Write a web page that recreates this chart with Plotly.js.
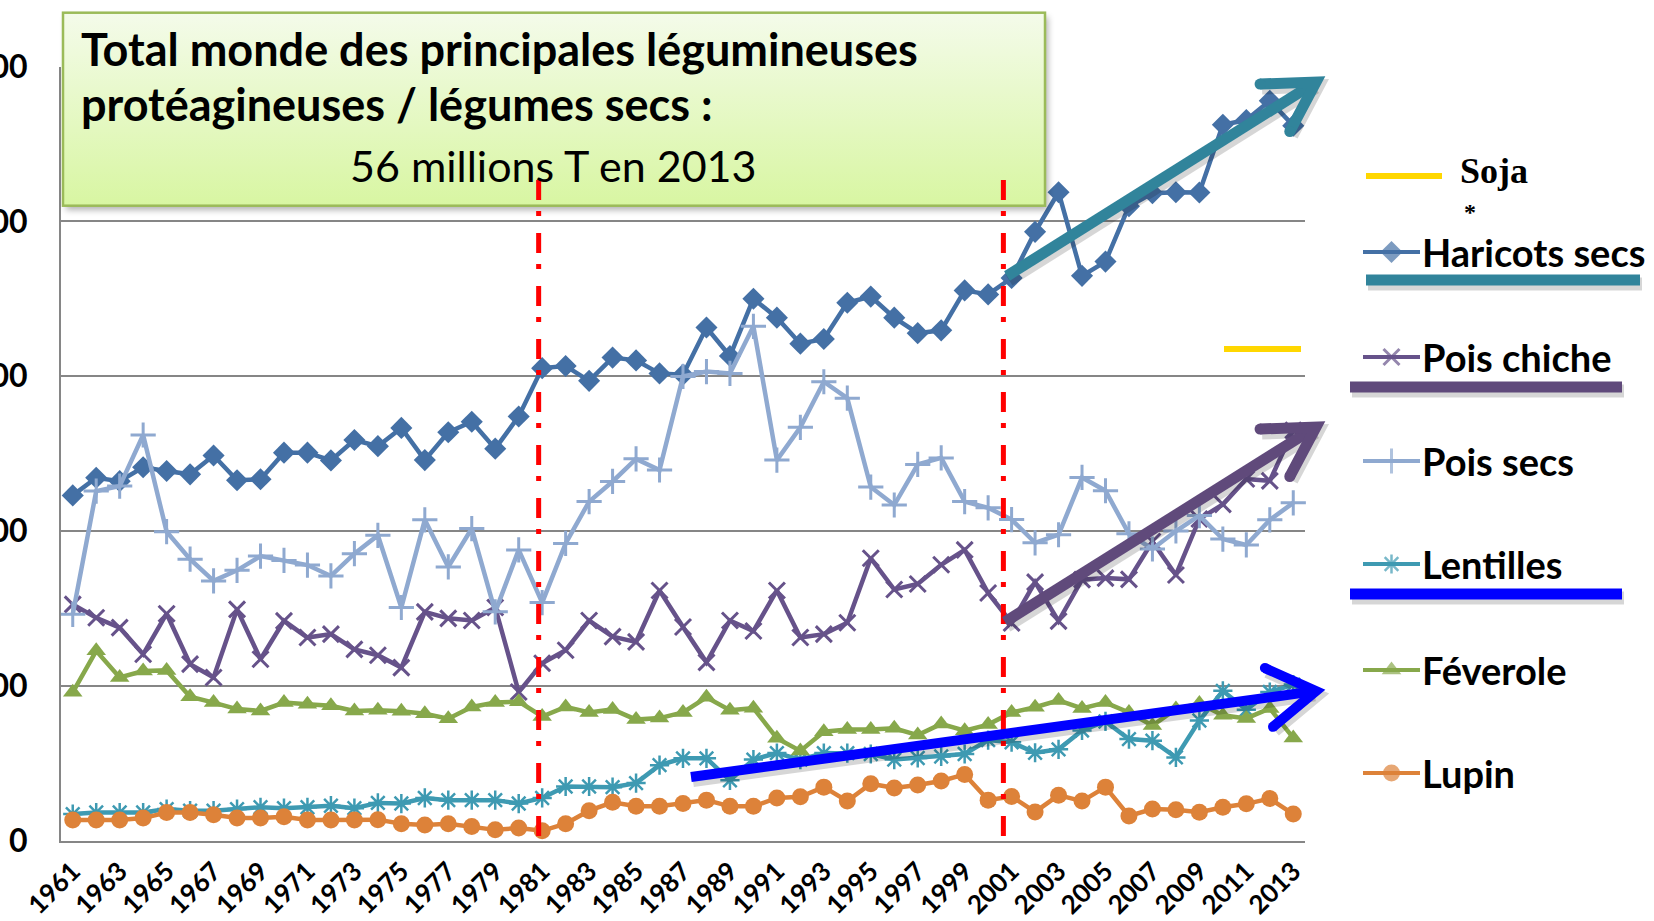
<!DOCTYPE html>
<html>
<head>
<meta charset="utf-8">
<script src="https://cdn.plot.ly/plotly-3.0.1.min.js"></script>
<style>html,body{margin:0;padding:0;background:#fff;}#chart{width:1654px;height:921px;}</style>
</head>
<body>
<div id="chart"></div>
<script>
// ---------- DATA (thousand tonnes, world production) ----------
const years = [1961,1962,1963,1964,1965,1966,1967,1968,1969,1970,1971,1972,1973,1974,1975,1976,1977,1978,1979,1980,
  1981,1982,1983,1984,1985,1986,1987,1988,1989,1990,1991,1992,1993,1994,1995,1996,1997,1998,1999,2000,
  2001,2002,2003,2004,2005,2006,2007,2008,2009,2010,2011,2012,2013];

const haricotsSecs = [11150,11720,11610,12060,11940,11830,12440,11640,11670,12530,12530,12280,12940,12740,13330,12290,13190,13530,12660,13700,
  15260,15330,14850,15600,15510,15090,15050,16570,15650,17500,16890,16050,16200,17370,17570,16890,16390,16480,17770,17640,
  18170,19660,20940,18240,18700,20490,20910,20940,20930,23120,23270,23890,23090];

const poisChiche = [7630,7200,6880,6020,7330,5700,5270,7470,5860,7100,6560,6670,6180,5990,5590,7390,7180,7110,7530,4800,
  5730,6150,7110,6590,6420,8080,6900,5760,7110,6770,8080,6560,6670,7040,9120,8110,8290,8910,9390,8000,
  7030,8350,7090,8430,8480,8440,9660,8580,10390,10860,11680,11620,13250];

const poisSecs = [7310,11290,11450,13100,9980,9090,8390,8730,9190,9050,8900,8550,9270,9860,7530,10360,8840,10080,7390,9390,
  7690,9600,10950,11600,12330,11970,14990,15150,15090,16610,12290,13350,14820,14290,11420,10840,12150,12360,10950,10750,
  10370,9620,9880,11730,11300,9910,9420,10000,10500,9740,9550,10360,10910];

const lentilles = [860,910,910,910,1020,970,970,1020,1080,1050,1080,1130,1050,1220,1200,1380,1310,1310,1310,1200,
  1380,1750,1750,1730,1860,2440,2660,2660,1950,2620,2830,2620,2830,2830,2800,2620,2670,2720,2800,3250,
  3180,2840,2950,3560,3850,3280,3230,2690,3880,4840,4230,4800,5040];

const feverole = [4790,6130,5270,5480,5500,4650,4460,4250,4190,4460,4410,4360,4190,4210,4180,4100,3940,4320,4460,4490,
  4010,4320,4140,4240,3910,3960,4140,4630,4210,4280,3310,2900,3520,3590,3590,3630,3410,3770,3550,3750,
  4140,4310,4530,4270,4460,4140,3720,4250,4430,4050,3950,4270,3320];

const lupin = [670,670,670,730,910,910,840,730,730,770,670,670,670,680,550,510,550,460,350,410,
  320,550,970,1240,1110,1110,1200,1310,1110,1110,1380,1420,1730,1280,1840,1700,1800,1930,2140,1310,
  1430,930,1470,1280,1730,800,1020,1000,920,1080,1190,1360,860];

const seriesNames = ["Haricots secs","Pois chiche","Pois secs","Lentilles","Féverole","Lupin"];
const seriesValues = [haricotsSecs, poisChiche, poisSecs, lentilles, feverole, lupin];
const yTicks = [0,5000,10000,15000,20000,25000];

const titleLine1 = "Total monde des principales légumineuses";
const titleLine2 = "protéagineuses / légumes secs :";
const titleLine3 = "56 millions T en 2013";
const sojaLabel = "Soja";
const markYears = [1981, 2001];

// ---------- STYLE ----------
const W = 1654, H = 921;
const PL = 61, PR = 1305, PT = 66.5, PB = 840.7;
const FONT = "Lato, 'Open Sans', sans-serif";
const styles = [
  {color:'#4470A5', symbol:'diamond', size:17, lw:0},
  {color:'#66528A', symbol:'x-thin-open', size:16, lw:3},
  {color:'#8FA9D0', symbol:'cross-thin-open', size:18, lw:3},
  {color:'#3E9AB2', symbol:'asterisk-open', size:16, lw:2.5},
  {color:'#87A84B', symbol:'triangle-up', size:17, lw:0},
  {color:'#DD8239', symbol:'circle', size:17, lw:0}
];
const legendY = [252, 357, 461, 564, 670, 773];
const markOffsets = [-0.15, -0.35];

const traces = [];
seriesNames.forEach((name, i) => {
  const s = styles[i];
  traces.push({
    type:'scatter', mode:'lines+markers', name:name, x:years, y:seriesValues[i],
    xaxis:'x', yaxis:'y', cliponaxis:false,
    line:{color:s.color, width:4.5},
    marker:{symbol:s.symbol, size:s.size, color:s.color, line:{color:s.color, width:s.lw}}
  });
});
// legend symbols (pixel overlay axes)
seriesNames.forEach((name, i) => {
  const s = styles[i];
  traces.push({
    type:'scatter', mode:'lines+markers', x:[1363,1391.5,1420], y:[legendY[i],legendY[i],legendY[i]],
    xaxis:'x2', yaxis:'y2', showlegend:false, cliponaxis:false,
    line:{color:s.color, width:4},
    marker:{symbol:s.symbol, size:[0,s.size,0], color:s.color, line:{color:s.color, width:s.lw}}
  });
});

const shapes = [];
function pxLine(x0,y0,x1,y1,color,width,shadow){
  if(shadow){
    shapes.push({type:'line', xref:'x2', yref:'y2', x0:x0+2, y0:y0+4, x1:x1+2, y1:y1+4,
      line:{color:'rgba(0,0,0,0.16)', width:width+2}, layer:'above'});
  }
  shapes.push({type:'line', xref:'x2', yref:'y2', x0, y0, x1, y1, line:{color, width}, layer:'above'});
}
function arrow(x0,y0,x1,y1,color,width,len,angDeg){
  const dx=x0-x1, dy=y0-y1, L=Math.hypot(dx,dy), ux=dx/L, uy=dy/L, a=angDeg*Math.PI/180;
  const ax=ux*Math.cos(a)-uy*Math.sin(a), ay=ux*Math.sin(a)+uy*Math.cos(a);
  const bx=ux*Math.cos(-a)-uy*Math.sin(-a), by=ux*Math.sin(-a)+uy*Math.cos(-a);
  const head = (ox,oy) => `M${x1+ax*len+ox},${y1+ay*len+oy} L${x1+ox},${y1+oy} L${x1+bx*len+ox},${y1+by*len+oy}`;
  shapes.push({type:'path', xref:'x2', yref:'y2', path:head(2,4), line:{color:'rgba(0,0,0,0.16)', width:width+2}, layer:'above'});
  pxLine(x0,y0,x1+ux*3,y1+uy*3,color,width,true);
  shapes.push({type:'path', xref:'x2', yref:'y2', path:head(0,0), line:{color, width}, layer:'above'});
  // rounded arm ends
  [[ax,ay],[bx,by]].forEach(([vx,vy]) => {
    const cx=x1+vx*len, cy=y1+vy*len, r=width/2;
    shapes.push({type:'circle', xref:'x2', yref:'y2', x0:cx-r, x1:cx+r, y0:cy-r, y1:cy+r,
      fillcolor:color, line:{width:0}, layer:'above'});
  });
}

// red dash-dot period markers
markYears.forEach((yr, k) => {
  const xv = yr + markOffsets[k];
  shapes.push({type:'line', xref:'x', yref:'y2', x0:xv, x1:xv, y0:180, y1:840,
    line:{color:'#FF0000', width:5, dash:'20px,11px,5px,17px'}, layer:'above'});
});
// trend arrows
arrow(1007,276,1316,82,'#31849B',11,56,30);
arrow(1005,622,1316,427,'#604A7B',11,56,30);
arrow(691,777,1316,691,'#0000FF',10,56,32);
// legend bars and yellow marks
pxLine(1366,280,1640,280,'#31849B',11,true);
pxLine(1350,387,1622,387,'#604A7B',11,true);
pxLine(1350,594,1622,594,'#0000FF',11,true);
pxLine(1366,176,1442,176,'#FFD700',6,false);
pxLine(1224,349,1301,349,'#FFD700',6,false);

const annotations = [];
function ann(text,x,y,opts){
  annotations.push(Object.assign({text, x, y, xref:'x2', yref:'y2', showarrow:false, borderpad:0,
    xanchor:'left', yanchor:'middle', font:{family:FONT, size:38, color:'#000', weight:700}}, opts||{}));
}
ann(titleLine1, 80, 49, {font:{family:FONT, size:45, color:'#000', weight:700}});
ann(titleLine2, 80, 104, {font:{family:FONT, size:45, color:'#000', weight:700}});
ann(titleLine3, 553, 165, {xanchor:'center', font:{family:FONT, size:43, color:'#000', weight:400}});
seriesNames.forEach((name,i) => ann(name, 1421, legendY[i]));
ann(sojaLabel, 1459, 171, {font:{family:"'Liberation Serif', serif", size:36, color:'#000', weight:700}});
ann('*', 1470, 212, {xanchor:'center', font:{family:"'Liberation Serif', serif", size:24, color:'#000', weight:700}});

const boxSvg = '<svg xmlns="http://www.w3.org/2000/svg" width="1007" height="217" viewBox="0 0 1007 217">' +
  '<defs><linearGradient id="g" x1="0" y1="0" x2="0" y2="1"><stop offset="0" stop-color="#f4fbea"/><stop offset="1" stop-color="#d8f6a2"/></linearGradient>' +
  '<filter id="b" x="-5%" y="-10%" width="110%" height="130%"><feGaussianBlur stdDeviation="3"/></filter></defs>' +
  '<rect x="11" y="12" width="982" height="193" fill="rgba(0,0,0,0.3)" filter="url(#b)"/>' +
  '<rect x="8" y="7.7" width="982" height="193" fill="url(#g)" stroke="#9bbb59" stroke-width="2.5"/></svg>';

const layout = {
  width:W, height:H, margin:{l:0,r:0,t:0,b:0}, paper_bgcolor:'#fff', plot_bgcolor:'rgba(0,0,0,0)',
  showlegend:false, font:{family:FONT},
  xaxis:{domain:[PL/W, PR/W], range:[1960.5,2013.5], tickmode:'linear', tick0:1961, dtick:2, tickangle:-45,
    tickfont:{family:FONT, size:26, color:'#000', weight:700}, showgrid:false, zeroline:false,
    showline:true, linecolor:'#868686', linewidth:2, ticks:'', ticklabelstandoff:3, fixedrange:true},
  yaxis:{domain:[1-PB/H, 1-PT/H], range:[0,25000], tickmode:'array', tickvals:yTicks, tickformat:'d',
    tickfont:{family:FONT, size:32, color:'#000', weight:700}, showgrid:true, gridcolor:'#868686', gridwidth:2,
    zeroline:false, showline:true, linecolor:'#868686', linewidth:2, ticks:'', ticklabelstandoff:25, fixedrange:true},
  xaxis2:{domain:[0,1], range:[0,W], anchor:'y2', visible:false, fixedrange:true},
  yaxis2:{domain:[0,1], range:[H,0], anchor:'x2', visible:false, fixedrange:true},
  shapes, annotations,
  images:[{source:'data:image/svg+xml;charset=utf-8,'+encodeURIComponent(boxSvg), xref:'paper', yref:'paper',
    x:55/W, y:1-5/H, sizex:1007/W, sizey:217/H, xanchor:'left', yanchor:'top', sizing:'stretch', layer:'above'}]
};
Plotly.newPlot('chart', traces, layout, {staticPlot:true, displayModeBar:false});
</script>
</body>
</html>
